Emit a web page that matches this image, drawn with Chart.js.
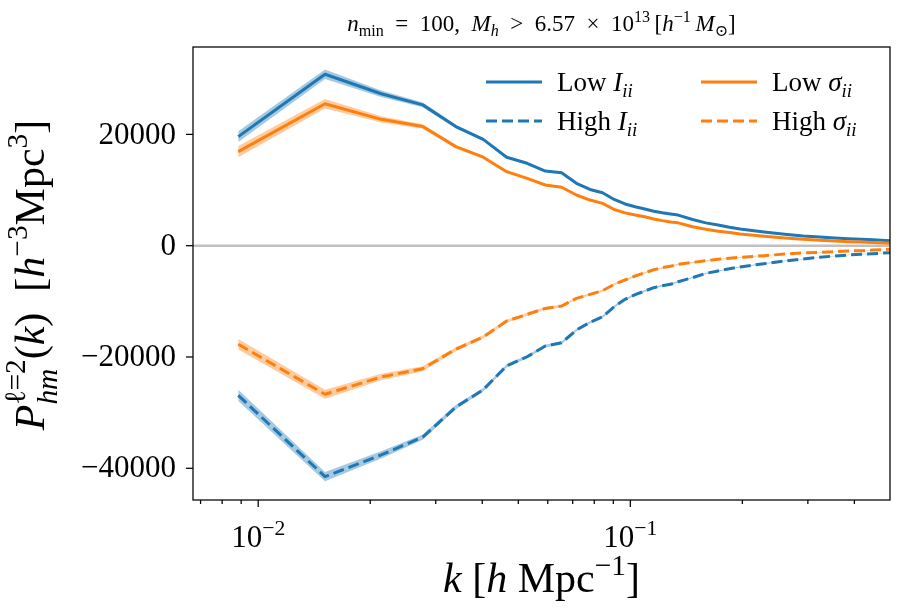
<!DOCTYPE html>
<html lang="en">
<head>
    <meta charset="UTF-8">
    <title>P_hm quadrupole</title>
    <script src="https://cdn.jsdelivr.net/npm/chart.js"></script>
    <style>
        body { margin: 0; background: #fff; }
        canvas { display: block; }
    </style>
</head>
<body>
    <canvas id="grafico" width="913" height="616"></canvas>

    <script>
        // k bins [h/Mpc]
        const k = [0.00884, 0.01512, 0.0214, 0.02768, 0.03396, 0.04024, 0.04652, 0.0528, 0.05908, 0.06536,
            0.07164, 0.07792, 0.0842, 0.09048, 0.09676, 0.10304, 0.10932, 0.1156, 0.12188, 0.12816,
            0.13444, 0.147, 0.15956, 0.17212, 0.18468, 0.19724, 0.22864, 0.26004, 0.29144, 0.32284,
            0.35424, 0.38564, 0.41704, 0.44844, 0.49868]

        const lowI = [19600, 30800, 27300, 25300, 21400, 19100, 15900, 14800, 13400, 13100,
            11200, 10100, 9500, 8300, 7500, 7000, 6600, 6200, 5900, 5700,
            5500, 4700, 4100, 3700, 3300, 3000, 2450, 2050, 1750, 1550,
            1380, 1250, 1150, 1050, 900]
        const highI = [-26900, -41500, -37600, -34400, -29000, -25900, -21600, -19960, -18040, -17450,
            -15160, -13780, -12770, -10970, -9640, -8800, -8150, -7550, -7190, -6950,
            -6470, -5750, -4970, -4550, -4140, -3830, -3240, -2750, -2390, -2090,
            -1850, -1670, -1550, -1440, -1260]
        const lowS = [16900, 25500, 22700, 21400, 17800, 15900, 13300, 12100, 10900, 10500,
            9100, 8200, 7600, 6500, 5900, 5500, 5200, 4800, 4500, 4250,
            4100, 3400, 2950, 2600, 2350, 2100, 1700, 1380, 1150, 970,
            850, 720, 650, 580, 450]
        const highS = [-17700, -26700, -23600, -22100, -18600, -16400, -13550, -12350, -11270, -10850,
            -9460, -8750, -8090, -6950, -6170, -5450, -4860, -4320, -3960, -3700,
            -3350, -3000, -2700, -2450, -2270, -2090, -1800, -1500, -1310, -1200,
            -1080, -950, -900, -770, -650]

        // half width of the shaded bands
        const errLowI = [950, 850, 600, 420, 320, 260, 220, 190, 170, 160, 150, 140, 130, 120, 110, 100, 95, 90,
            85, 80, 75, 70, 65, 60, 55, 50, 45, 40, 35, 32, 28, 25, 22, 20, 18]
        const errHighI = [1000, 850, 650, 480, 380, 320, 290, 270, 250, 240, 230, 220, 210, 200, 190, 180, 170, 160,
            150, 140, 130, 120, 110, 100, 95, 90, 80, 70, 60, 55, 50, 45, 40, 36, 32]
        const errLowS = [1000, 850, 550, 400, 300, 250, 210, 180, 160, 150, 140, 130, 120, 110, 100, 95, 90, 85,
            80, 75, 70, 65, 60, 55, 50, 45, 40, 35, 32, 28, 25, 22, 20, 18, 16]
        const errHighS = [950, 800, 600, 450, 360, 300, 270, 250, 230, 220, 210, 200, 190, 180, 170, 160, 150, 140,
            130, 120, 110, 100, 95, 90, 85, 80, 70, 60, 55, 50, 45, 40, 36, 32, 28]

        const yTicks = [20000, 0, -20000, -40000]
        const yTickLabels = ['20000', '0', '\u221220000', '\u221240000']
        const xTicks = [0.01, 0.1]
        const xTickExp = ['\u22122', '\u22121']
        const xMinor = [0.007, 0.008, 0.009, 0.02, 0.03, 0.04, 0.05, 0.06, 0.07, 0.08, 0.09, 0.2, 0.3, 0.4]

        const AZUL = '#1f77b4'
        const LARANJA = '#ff7f0e'
        const FONTE = '"Liberation Serif", "DejaVu Serif", serif'

        function pontos(vals, errs, sinal) {
            return k.map((x, i) => ({ x: x, y: vals[i] + sinal * (errs ? errs[i] : 0) }))
        }

        function faixa(vals, errs, cor) {
            return [
                { data: pontos(vals, errs, -1), borderWidth: 0, pointRadius: 0, fill: false, order: 10 },
                { data: pontos(vals, errs, 1), borderWidth: 0, pointRadius: 0, fill: '-1', backgroundColor: cor, order: 10 }
            ]
        }

        function linha(vals, cor, tracejado, ordem) {
            return {
                data: pontos(vals, null, 0), borderColor: cor, borderWidth: 3, pointRadius: 0,
                borderDash: tracejado ? [11, 5] : [], borderJoinStyle: 'round', fill: false, order: ordem
            }
        }

        // --- texto com sub/sobrescrito (estilo mathtext) ---
        function fonteDe(p, tam) {
            return (p.i ? 'italic ' : '') + tam + 'px ' + FONTE
        }
        function larguraParte(ctx, p, tam) {
            if (p.stack) return Math.max(...p.stack.map(q => larguraParte(ctx, q, tam * 0.7)))
            ctx.font = fonteDe(p, p.d ? tam * 0.7 : tam)
            return ctx.measureText(p.t).width
        }
        function textoRico(ctx, partes, x, y, tam, alinhar) {
            const total = partes.reduce((w, p) => w + larguraParte(ctx, p, tam), 0)
            let cx = alinhar == 'center' ? x - total / 2 : alinhar == 'right' ? x - total : x
            ctx.textAlign = 'left'
            ctx.textBaseline = 'alphabetic'
            ctx.fillStyle = '#000'
            partes.forEach(p => {
                const w = larguraParte(ctx, p, tam)
                if (p.stack) {
                    ctx.font = fonteDe(p.stack[0], tam * 0.7)
                    ctx.fillText(p.stack[0].t, cx, y - tam * 0.45)
                    ctx.font = fonteDe(p.stack[1], tam * 0.7)
                    ctx.fillText(p.stack[1].t, cx, y + tam * 0.3)
                } else {
                    const dy = p.d == 'sub' ? tam * 0.22 : p.d == 'sup' ? -tam * 0.4 : 0
                    ctx.font = fonteDe(p, p.d ? tam * 0.7 : tam)
                    ctx.fillText(p.t, cx, y + dy)
                }
                cx += w
            })
        }

        const titulo = [{ t: 'n', i: 1 }, { t: 'min', d: 'sub' }, { t: '\u2002=\u2002100,\u2002' }, { t: 'M', i: 1 }, { t: 'h', i: 1, d: 'sub' },
            { t: '\u2002>\u20026.57\u2002\u00d7\u200210' }, { t: '13', d: 'sup' }, { t: '\u2009[' }, { t: 'h', i: 1 }, { t: '\u22121', d: 'sup' }, { t: '\u2009' },
            { t: 'M', i: 1 }, { t: '\u2299', d: 'sub' }, { t: ']' }]
        const rotuloY = [{ t: 'P', i: 1 }, { stack: [{ t: '\u2113=2' }, { t: 'hm', i: 1 }] }, { t: '(' }, { t: 'k', i: 1 },
            { t: ')  [' }, { t: 'h', i: 1 }, { t: '\u22123', d: 'sup' }, { t: 'Mpc' }, { t: '3', d: 'sup' }, { t: ']' }]
        const rotuloX = [{ t: 'k', i: 1 }, { t: ' [' }, { t: 'h', i: 1 }, { t: ' Mpc' }, { t: '\u22121', d: 'sup' }, { t: ']' }]

        const legenda = [
            { txt: [{ t: 'Low ' }, { t: 'I', i: 1 }, { t: 'ii', i: 1, d: 'sub' }], cor: AZUL, dash: false, x: 486, y: 82 },
            { txt: [{ t: 'High ' }, { t: 'I', i: 1 }, { t: 'ii', i: 1, d: 'sub' }], cor: AZUL, dash: true, x: 486, y: 121 },
            { txt: [{ t: 'Low ' }, { t: '\u03c3', i: 1 }, { t: 'ii', i: 1, d: 'sub' }], cor: LARANJA, dash: false, x: 701, y: 82 },
            { txt: [{ t: 'High ' }, { t: '\u03c3', i: 1 }, { t: 'ii', i: 1, d: 'sub' }], cor: LARANJA, dash: true, x: 701, y: 121 }
        ]

        const enfeites = {
            id: 'enfeites',
            beforeDatasetsDraw(chart) {
                const ctx = chart.ctx, a = chart.chartArea
                const y0 = chart.scales.y.getPixelForValue(0)
                ctx.save()
                ctx.strokeStyle = '#c0c0c0'
                ctx.lineWidth = 2.5
                ctx.beginPath()
                ctx.moveTo(a.left, y0)
                ctx.lineTo(a.right, y0)
                ctx.stroke()
                ctx.restore()
            },
            afterDraw(chart) {
                const ctx = chart.ctx, a = chart.chartArea
                const sx = chart.scales.x, sy = chart.scales.y
                ctx.save()
                ctx.strokeStyle = '#000'
                ctx.lineWidth = 1.25
                ctx.strokeRect(a.left, a.top, a.right - a.left, a.bottom - a.top)

                // eixo y
                yTicks.forEach((v, i) => {
                    const py = sy.getPixelForValue(v)
                    ctx.beginPath()
                    ctx.moveTo(a.left - 7, py)
                    ctx.lineTo(a.left, py)
                    ctx.stroke()
                    ctx.font = '31px ' + FONTE
                    ctx.fillStyle = '#000'
                    ctx.textAlign = 'right'
                    ctx.textBaseline = 'middle'
                    ctx.fillText(yTickLabels[i], a.left - 17, py + 1)
                })

                // eixo x
                xMinor.forEach(v => {
                    const px = sx.getPixelForValue(v)
                    ctx.beginPath()
                    ctx.moveTo(px, a.bottom)
                    ctx.lineTo(px, a.bottom + 4)
                    ctx.stroke()
                })
                xTicks.forEach((v, i) => {
                    const px = sx.getPixelForValue(v)
                    ctx.beginPath()
                    ctx.moveTo(px, a.bottom)
                    ctx.lineTo(px, a.bottom + 7)
                    ctx.stroke()
                    textoRico(ctx, [{ t: '10' }, { t: xTickExp[i], d: 'sup' }], px, 547, 31, 'center')
                })

                textoRico(ctx, rotuloX, (a.left + a.right) / 2, 592, 42, 'center')
                textoRico(ctx, titulo, (a.left + a.right) / 2, 31, 23, 'center')

                ctx.save()
                ctx.translate(44, 275)
                ctx.rotate(-Math.PI / 2)
                textoRico(ctx, rotuloY, 0, 0, 42, 'center')
                ctx.restore()

                // legenda
                legenda.forEach(l => {
                    ctx.strokeStyle = l.cor
                    ctx.lineWidth = 3
                    ctx.setLineDash(l.dash ? [11, 5] : [])
                    ctx.beginPath()
                    ctx.moveTo(l.x, l.y)
                    ctx.lineTo(l.x + 56, l.y)
                    ctx.stroke()
                    ctx.setLineDash([])
                    textoRico(ctx, l.txt, l.x + 71, l.y + 9, 27, 'left')
                })
                ctx.restore()
            }
        }

        new Chart(document.getElementById('grafico'), {
            type: 'line',
            data: {
                datasets: [
                    ...faixa(lowI, errLowI, 'rgba(31,119,180,0.4)'),
                    ...faixa(highI, errHighI, 'rgba(31,119,180,0.4)'),
                    ...faixa(lowS, errLowS, 'rgba(255,127,14,0.4)'),
                    ...faixa(highS, errHighS, 'rgba(255,127,14,0.4)'),
                    linha(lowI, AZUL, false, 3),
                    linha(highI, AZUL, true, 3),
                    linha(lowS, LARANJA, false, 1),
                    linha(highS, LARANJA, true, 1)
                ]
            },
            options: {
                responsive: false,
                animation: false,
                devicePixelRatio: 1,
                layout: { padding: { left: 193, top: 47, right: 23, bottom: 116 } },
                plugins: { legend: { display: false }, tooltip: { enabled: false } },
                scales: {
                    x: {
                        type: 'logarithmic', min: 0.00668, max: 0.49868, bounds: 'data',
                        grid: { display: false }, border: { display: false }, ticks: { display: false },
                        afterFit: s => { s.height = 0 }
                    },
                    y: {
                        type: 'linear', min: -45700, max: 35700,
                        grid: { display: false }, border: { display: false }, ticks: { display: false },
                        afterFit: s => { s.width = 0 }
                    }
                }
            },
            plugins: [enfeites]
        })
    </script>
</body>
</html>
